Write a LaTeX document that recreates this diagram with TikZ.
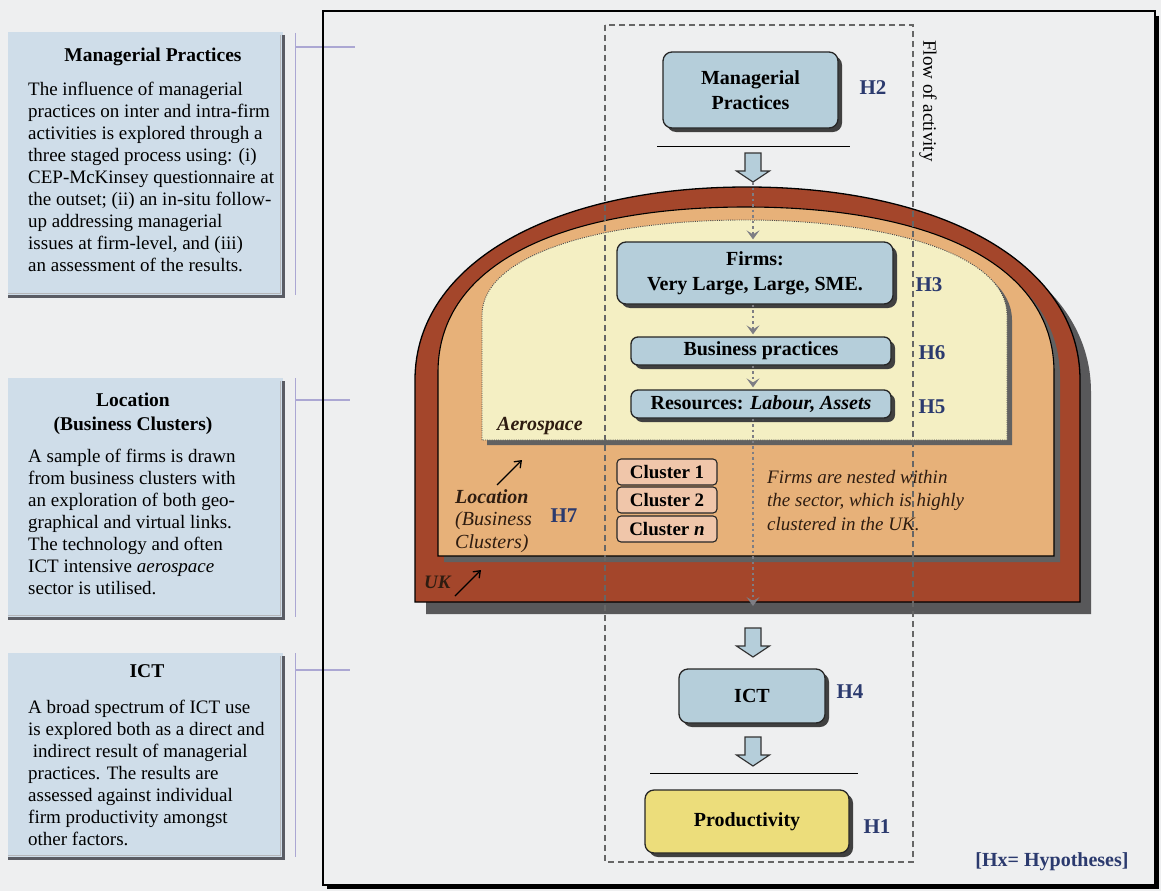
\documentclass[tikz,border=0pt]{standalone}
\usepackage{fontspec}
\setmainfont{Liberation Serif}
\usetikzlibrary{shadows,calc,arrows.meta}

\definecolor{pagebg}{HTML}{EEEFF0}
\definecolor{sidebox}{HTML}{CFDDE9}
\definecolor{sideedgecol}{HTML}{5A5C64}
\definecolor{tieline}{HTML}{ABA7D3}
\definecolor{nodeblue}{HTML}{B5CEDA}
\definecolor{prodyellow}{HTML}{ECDD7B}
\definecolor{ukbrown}{HTML}{A4462B}
\definecolor{regionorange}{HTML}{E7B179}
\definecolor{aerofill}{HTML}{F4EFC3}
\definecolor{clusterfill}{HTML}{F0C6AA}
\definecolor{hnavy}{HTML}{2B3A6E}
\definecolor{darkbrown}{HTML}{2E1C10}
\definecolor{shadowgrey}{HTML}{58585A}
\definecolor{flowgrey}{HTML}{7E7E84}

\tikzset{
  sidepanel/.style={fill=sidebox, draw=none, anchor=north west, inner sep=0pt, minimum width=275pt},
  sideedge/.style={draw=sideedgecol, line width=2.2pt},
  sideinner/.style={draw=sideedgecol!45, line width=1pt},
  sidetitle/.style={font=\fontsize{19.5}{24}\selectfont\bfseries, anchor=base, inner sep=0pt, align=center},
  sidebody/.style={font=\fontsize{19}{22}\selectfont, align=left, anchor=base west, inner sep=0pt},
  tie/.style={draw=tieline, line width=1.5pt},
  flowbox/.style={draw=black!60, line width=1.2pt, dash pattern=on 6pt off 4pt},
  blockbox/.style={draw=black!85, line width=1.3pt, rounded corners=9pt, fill=nodeblue,
    align=center, inner sep=0pt, font=\fontsize{20}{25}\selectfont\bfseries,
    drop shadow={shadow xshift=4pt, shadow yshift=-4pt, fill=black!75, opacity=1}},
  hyp/.style={font=\fontsize{21}{24}\selectfont\bfseries, text=hnavy, inner sep=0pt},
  clusterbox/.style={draw=black!85, line width=1.1pt, rounded corners=4pt, fill=clusterfill,
    minimum width=100pt, minimum height=26pt, inner sep=0pt, font=\fontsize{19}{22}\selectfont\bfseries},
  flow/.style={draw=flowgrey, line width=2pt, dash pattern=on 2.5pt off 3pt, shorten >=2pt,
    -{Stealth[length=9pt, width=13pt, inset=4pt]}},
  pointer/.style={draw=black, line width=1.3pt, -{Straight Barb[length=6pt, width=9pt]}},
  rule/.style={draw=black, line width=1.3pt},
  blockarrow/.pic={\draw[draw=black!80, line width=1.2pt, fill=nodeblue, line join=miter]
    (-8,0) -- (8,0) -- (8,18) -- (16.5,18) -- (0,29) -- (-16.5,18) -- (-8,18) -- cycle;},
  ukdome/.pic={\path[pic actions] (415,602) -- (415,380)
    .. controls (415,262) and (555,187) .. (747,187)
    .. controls (939,187) and (1080,262) .. (1080,380) -- (1080,602) -- cycle;},
  locregion/.pic={\path[pic actions] (438,556) -- (438,372)
    .. controls (438,262) and (565,207) .. (746,207)
    .. controls (927,207) and (1054,262) .. (1054,372) -- (1054,556) -- cycle;},
  sectorregion/.pic={\path[pic actions] (482,440) -- (482,315)
    .. controls (482,255) and (600,220) .. (745,220)
    .. controls (890,220) and (1007,255) .. (1007,315) -- (1007,440) -- cycle;},
}

\begin{document}
\begin{tikzpicture}[x=1pt, y=-1pt]
\useasboundingbox (0,0) rectangle (1161,891);
\fill[pagebg] (0,0) rectangle (1161,891);

% ---------- side panels (multi-line texts are anchored on their last baseline) ----------
\node[sidepanel, minimum height=264pt] (lb1) at (8,32) {};
\draw[sideinner] ($(lb1.north east)+(-3,3)$) -- ($(lb1.south east)+(-3,-3)$) -- ($(lb1.south west)+(0,-3)$);
\draw[sideedge] ($(lb1.north east)+(0,3)$) -- (lb1.south east) -- (lb1.south west);
\node[sidetitle] (lb1t) at (153,62) {Managerial Practices};
\node[sidebody] (lb1b) at (28,271) {The influence of managerial\\
practices on inter and intra-firm\\
activities is explored through a\\
three staged process using: (i)\\
CEP-McKinsey questionnaire at\\
the outset; (ii) an in-situ follow-\\
up addressing managerial\\
issues at firm-level, and (iii)\\
an assessment of the results.};

\node[sidepanel, minimum height=240pt] (lb2) at (8,378) {};
\draw[sideinner] ($(lb2.north east)+(-3,3)$) -- ($(lb2.south east)+(-3,-3)$) -- ($(lb2.south west)+(0,-3)$);
\draw[sideedge] ($(lb2.north east)+(0,3)$) -- (lb2.south east) -- (lb2.south west);
\node[sidetitle] (lb2t) at (133,430) {Location\\(Business Clusters)};
\node[sidebody] (lb2b) at (28,594) {A sample of firms is drawn\\
from business clusters with\\
an exploration of both geo-\\
graphical and virtual links.\\
The technology and often\\
ICT intensive \textit{aerospace}\\
sector is utilised.};

\node[sidepanel, minimum height=205pt] (lb3) at (8,653) {};
\draw[sideinner] ($(lb3.north east)+(-3,3)$) -- ($(lb3.south east)+(-3,-3)$) -- ($(lb3.south west)+(0,-3)$);
\draw[sideedge] ($(lb3.north east)+(0,3)$) -- (lb3.south east) -- (lb3.south west);
\node[sidetitle] (lb3t) at (147,677) {ICT};
\node[sidebody] (lb3b) at (28,845) {A broad spectrum of ICT use\\
is explored both as a direct and\\
\ indirect result of managerial\\
practices. The results are\\
assessed against individual\\
firm productivity amongst\\
other factors.};

% ties from the panels to the frame
\draw[tie] ($(lb1.north east)+(12,1)$) -- ($(lb1.south east)+(12,-1)$);
\draw[tie] ($(lb1.north east)+(12,15)$) -- +(60,0);
\draw[tie] ($(lb2.north east)+(12,0)$) -- ($(lb2.south east)+(12,-1)$);
\draw[tie] ($(lb2.north east)+(12,22)$) -- +(55,0);
\draw[tie] ($(lb3.north east)+(12,0)$) -- ($(lb3.south east)+(12,-1)$);
\draw[tie] ($(lb3.north east)+(12,17)$) -- +(55,0);

% ---------- main frame ----------
\draw[line width=3pt] (1157,16) -- (1157,887) -- (327,887);
\draw[line width=1.5pt] (323,11) rectangle (1155,885);

% ---------- nested regions ----------
\pic[fill=shadowgrey] at (11,12) {ukdome};
\pic[fill=ukbrown, draw=black, line width=1.3pt] at (0,0) {ukdome};
\pic[fill=black!62] at (6,6) {locregion};
\pic[fill=regionorange, draw=black, line width=1.1pt] at (0,0) {locregion};
\pic[fill=black!62] at (5,5) {sectorregion};
\pic[fill=aerofill, draw=black!70, line width=0.9pt, dash pattern=on 1pt off 1.2pt] at (0,0) {sectorregion};

% ---------- flow of activity ----------
\draw[flowbox] (605,25) rectangle (913,862);
\node[rotate=-90, font=\fontsize{19}{22}\selectfont, inner sep=0pt] (flowlabel) at (928,101) {Flow of activity};

% ---------- boxes ----------
\node[blockbox, minimum width=175pt, minimum height=76pt] (mp) at (750.5,90) {Managerial\\Practices};
\node[blockbox, minimum width=276pt, minimum height=62pt] (firms) at (755,273) {Firms:\\Very Large, Large, SME.};
\node[blockbox, rounded corners=7pt, minimum width=260pt, minimum height=28pt] (biz) at (761,351) {Business practices};
\node[blockbox, rounded corners=7pt, minimum width=260pt, minimum height=28pt] (res) at (761,404) {Resources: \textit{Labour, Assets}};
\node[blockbox, minimum width=146pt, minimum height=54pt] (ict) at (752,696) {ICT};
\node[blockbox, fill=prodyellow, minimum width=204pt, minimum height=63pt] (prod) at (747,821.5) {Productivity};

\node[clusterbox] (c1) at (667,472) {Cluster 1};
\node[clusterbox] (c2) at (667,500) {Cluster 2};
\node[clusterbox] (c3) at (667,529) {Cluster \textit{n}};

% rules and block arrows
\draw[rule] ($(mp.south west)+(-5,18)$) -- ($(mp.south east)+(11,18)$);
\draw[rule] ($(prod.north west)+(6,-16)$) -- ($(prod.north east)+(8,-16)$);
\coordinate (a1) at (753,153);
\coordinate (a1tip) at (753,182);
\coordinate (a2) at (753,628);
\coordinate (a3) at (753,737);
\pic at (a1) {blockarrow};
\pic at (a2) {blockarrow};
\pic at (a3) {blockarrow};

% dotted flow through the sector
\coordinate (flowend) at (753,608);
\draw[flow] (a1tip) -- (a1tip |- firms.north);
\draw[flow] (a1tip |- firms.south) -- (a1tip |- biz.north);
\draw[flow] (a1tip |- biz.south) -- (a1tip |- res.north);
\draw[flow] (a1tip |- res.south) -- (flowend);

% ---------- hypotheses ----------
\node[hyp] (h2) at (873,88) {H2};
\node[hyp] (h3) at (929,285) {H3};
\node[hyp] (h6) at (932,353) {H6};
\node[hyp] (h5) at (932,407) {H5};
\node[hyp] (h4) at (850,692) {H4};
\node[hyp] (h1) at (877,827) {H1};
\node[hyp] (h7) at (564,516) {H7};
\node[hyp, font=\fontsize{20}{24}\selectfont\bfseries] (hx) at (1052,862) {[Hx= Hypotheses]};

% ---------- region labels ----------
\node[anchor=base west, inner sep=0pt, text=darkbrown, font=\fontsize{20}{22}\selectfont\bfseries\itshape] (aero) at (497,430) {Aerospace};
\node[anchor=base west, inner sep=0pt, align=left, text=darkbrown, font=\fontsize{20}{22.5}\selectfont\itshape] (loc) at (455,548) {\textbf{Location}\\(Business\\Clusters)};
\node[anchor=base west, inner sep=0pt, text=darkbrown, font=\fontsize{19}{22}\selectfont\bfseries\itshape] (uk) at (424,588) {UK};
\node[anchor=base west, inner sep=0pt, align=left, text=darkbrown, font=\fontsize{19}{23.5}\selectfont\itshape] (nested) at (767,530) {Firms are nested within\\the sector, which is highly\\clustered in the UK.};

\coordinate (loctail) at (497,485);
\coordinate (lochead) at (522,460);
\coordinate (uktail) at (455,596);
\coordinate (ukhead) at (481,570);
\draw[pointer] (loctail) -- (lochead);
\draw[pointer] (uktail) -- (ukhead);
\end{tikzpicture}
\end{document}
